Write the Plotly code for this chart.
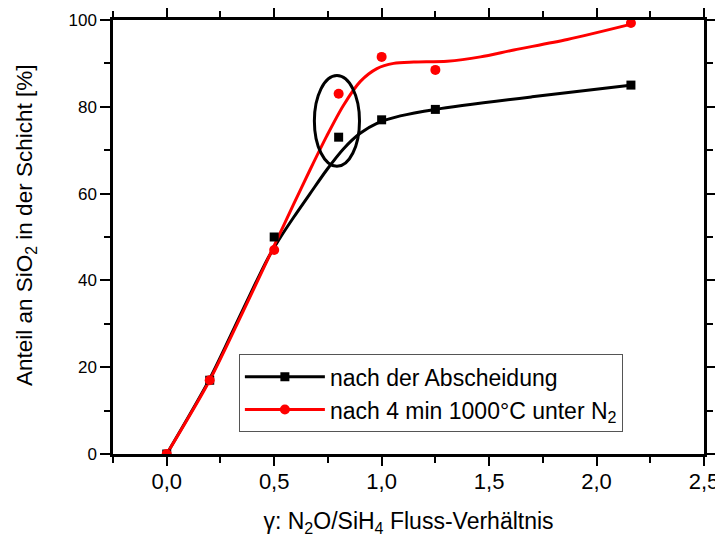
import plotly.graph_objects as go

# measured data
x_data = [0.0, 0.2, 0.5, 0.8, 1.0, 1.25, 2.16]
y_dep = [0.0, 17.0, 50.0, 73.0, 77.0, 79.4, 85.0]
y_ann = [0.0, 17.0, 47.0, 83.0, 91.5, 88.5, 99.3]

# fitted curves
fit_dep_x = [0.0, 0.2, 0.35, 0.47, 0.53, 0.59, 0.667, 0.745, 0.822, 0.9, 0.978, 1.087, 1.25, 1.7, 2.167]
fit_dep_y = [0.0, 17.3, 32.8, 45.0, 50.0, 54.5, 60.0, 65.5, 70.3, 73.9, 76.2, 77.9, 79.4, 82.3, 85.0]
fit_ann_x = [0.0, 0.2, 0.35, 0.5, 0.59, 0.667, 0.745, 0.822, 0.9, 0.978, 1.056, 1.15, 1.305, 1.46, 1.615, 1.864, 2.167]
fit_ann_y = [0.0, 17.0, 32.3, 48.0, 57.5, 65.5, 73.3, 80.3, 85.8, 88.8, 90.0, 90.3, 90.5, 91.5, 93.1, 95.5, 99.1]

# highlighted region (ellipse)
ell_x = [0.687, 0.897]
ell_y = [66.3, 87.2]

name_dep = "nach der Abscheidung"
name_ann = "nach 4 min 1000°C unter N<sub>2</sub>"
x_title = "γ: N<sub>2</sub>O/SiH<sub>4</sub> Fluss-Verhältnis"
y_title = "Anteil an SiO<sub>2</sub> in der Schicht [%]"

BLACK = "#000000"
RED = "#ff0000"
FONT = "Arial, Liberation Sans, sans-serif"

fig = go.Figure()

fig.add_trace(go.Scatter(x=fit_dep_x, y=fit_dep_y, mode="lines", line=dict(color=BLACK, width=3, shape="spline", smoothing=0.8),
                         showlegend=False, hoverinfo="skip"))
fig.add_trace(go.Scatter(x=fit_ann_x, y=fit_ann_y, mode="lines", line=dict(color=RED, width=3, shape="spline", smoothing=0.8),
                         showlegend=False, hoverinfo="skip"))
fig.add_trace(go.Scatter(x=x_data, y=y_dep, mode="markers", marker=dict(symbol="square", size=9, color=BLACK),
                         showlegend=False))
fig.add_trace(go.Scatter(x=x_data, y=y_ann, mode="markers", marker=dict(symbol="circle", size=10, color=RED),
                         showlegend=False))
# legend entries
fig.add_trace(go.Scatter(x=[None], y=[None], mode="lines+markers", name=name_dep,
                         line=dict(color=BLACK, width=3), marker=dict(symbol="square", size=9, color=BLACK)))
fig.add_trace(go.Scatter(x=[None], y=[None], mode="lines+markers", name=name_ann,
                         line=dict(color=RED, width=3), marker=dict(symbol="circle", size=10, color=RED)))

fig.add_shape(type="circle", xref="x", yref="y", x0=ell_x[0], x1=ell_x[1], y0=ell_y[0], y1=ell_y[1],
              line=dict(color=BLACK, width=3))

# y-axis title as a rotated annotation (it sits slightly above the axis centre)
fig.add_annotation(text=y_title, xref="paper", yref="paper", x=-0.146, y=0.527,
                   xanchor="center", yanchor="middle", textangle=-90, showarrow=False,
                   font=dict(size=22.5, family=FONT, color="black"))

# the page places the figure 8 px from the top-left corner
fig.update_layout(
    width=715, height=531,
    margin=dict(l=105, r=19, t=12, b=85, autoexpand=False),
    paper_bgcolor="white", plot_bgcolor="white",
    separators=",.",
    font=dict(family=FONT, color="black"),
    legend=dict(x=0.213, y=0.23, xanchor="left", yanchor="top",
                bordercolor="#555555", borderwidth=1, bgcolor="white",
                itemwidth=80,
                font=dict(size=23, family=FONT), tracegroupgap=0),
)

fig.update_xaxes(
    range=[-0.25, 2.5], tick0=0, dtick=0.5, tickformat=".1f", automargin=False,
    showline=True, linecolor="black", linewidth=2.5, mirror="ticks",
    ticks="outside", ticklen=9, tickwidth=2, tickcolor="black",
    minor=dict(dtick=0.25, tick0=0, ticks="outside", ticklen=6, tickwidth=2, tickcolor="black"),
    showgrid=False, zeroline=False, ticklabelstandoff=-3,
    tickfont=dict(size=22, family=FONT),
    title=dict(text=x_title, font=dict(size=23, family=FONT), standoff=20),
)
fig.update_yaxes(
    range=[0, 100], tick0=0, dtick=20, automargin=False,
    showline=True, linecolor="black", linewidth=2.5, mirror="ticks",
    ticks="outside", ticklen=10, tickwidth=2, tickcolor="black",
    minor=dict(dtick=10, tick0=0, ticks="outside", ticklen=6, tickwidth=2, tickcolor="black"),
    showgrid=False, zeroline=False,
    tickfont=dict(size=17, family=FONT),
)

fig.write_html("out.html")
